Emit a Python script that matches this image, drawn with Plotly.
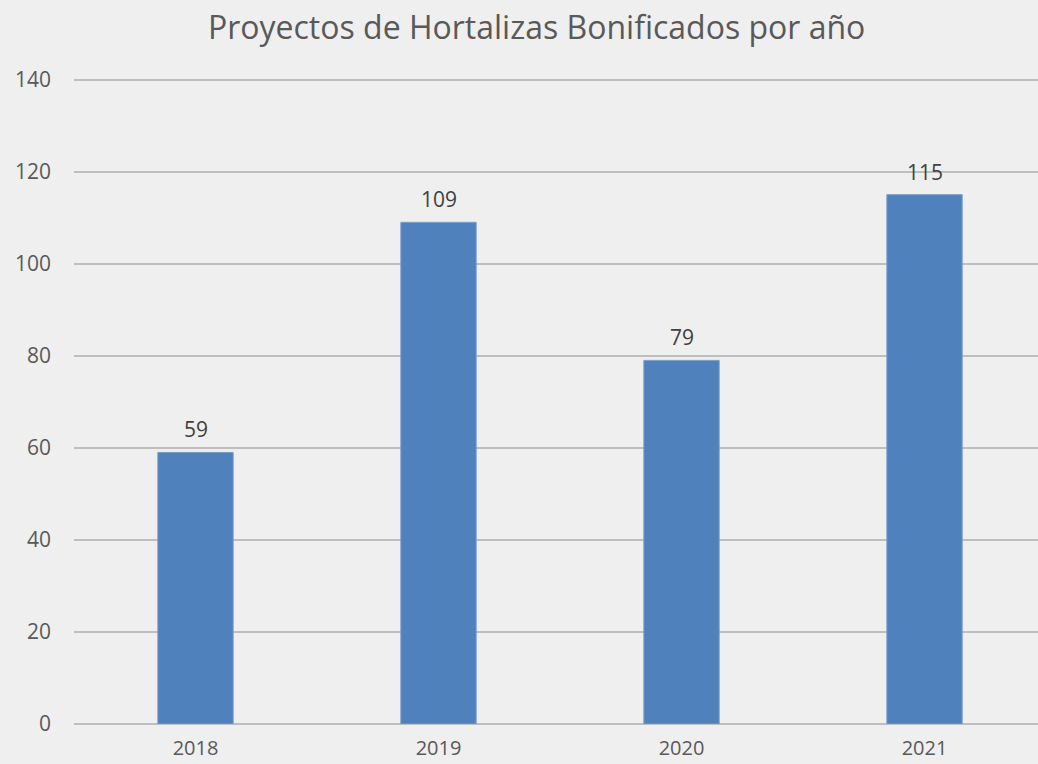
import plotly.graph_objects as go

years = ["2018", "2019", "2020", "2021"]
proyectos = [59, 109, 79, 115]
title_text = "Proyectos de Hortalizas Bonificados por año"
y_ticks = [0, 20, 40, 60, 80, 100, 120, 140]

TEXT = "#595959"
FONT = "Open Sans"

fig = go.Figure()
fig.add_trace(go.Bar(
    x=list(range(len(years))), y=proyectos,
    width=0.31,
    marker=dict(color="#4F81BD", line=dict(color="#7A9CC8", width=1)),
    hoverinfo="skip",
))

for i, v in enumerate(proyectos):
    fig.add_annotation(x=i, y=v, text=str(v), showarrow=False,
                       yanchor="bottom", yshift=7,
                       font=dict(family=FONT, size=21, color="#404040"))

fig.update_layout(
    width=1038, height=764,
    margin=dict(l=74, r=0, t=75, b=40),
    paper_bgcolor="#EFEFEF", plot_bgcolor="#EFEFEF",
    title=dict(text=title_text, x=0.517, xanchor="center", y=0.963, yanchor="middle",
               font=dict(family=FONT, size=32, color=TEXT), automargin=False),
    showlegend=False,
)
fig.update_xaxes(
    range=[-0.5, 3.467],
    tickvals=list(range(len(years))), ticktext=years,
    showgrid=False, showline=False, ticks="", zeroline=False,
    ticklabelstandoff=10, automargin=False,
    tickfont=dict(family=FONT, size=20, color=TEXT),
)
fig.update_yaxes(
    range=[0, 141], tickvals=y_ticks,
    showgrid=True, gridcolor="#BEBEBE", gridwidth=2,
    zeroline=True, zerolinecolor="#BEBEBE", zerolinewidth=2,
    showline=False, ticks="", ticklabelstandoff=22, automargin=False,
    tickfont=dict(family=FONT, size=21, color=TEXT),
)

fig.write_html(
    "out.html",
    config={"displayModeBar": False},
    post_script="document.body.style.margin='0';document.body.style.overflow='hidden';",
)
